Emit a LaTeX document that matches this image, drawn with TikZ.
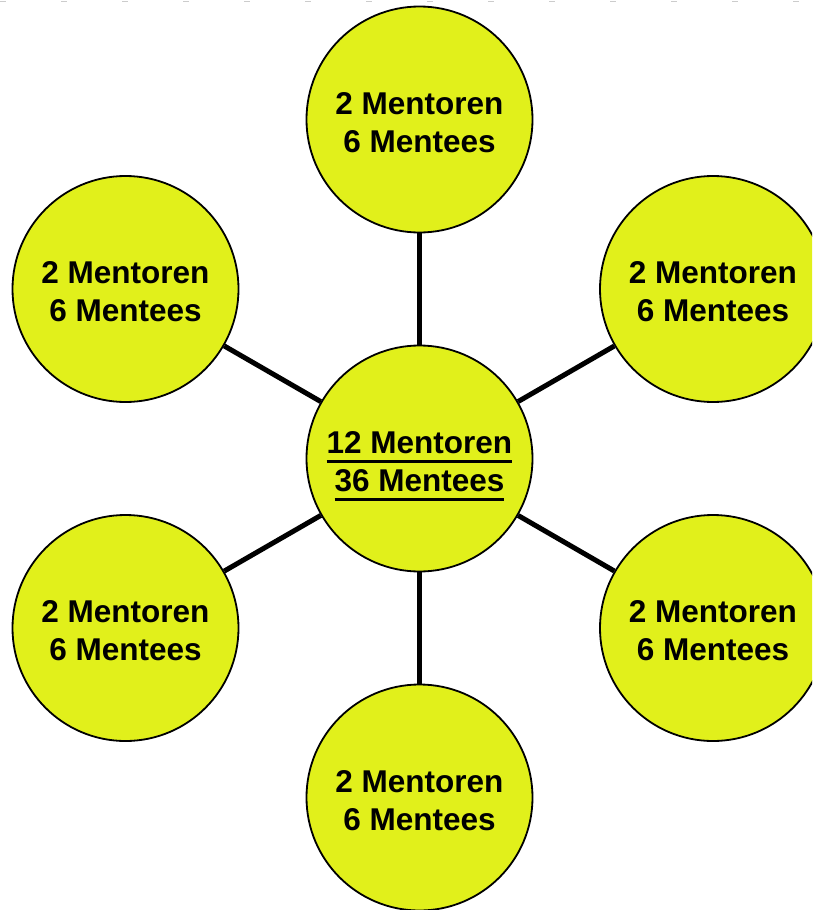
\documentclass[tikz,border=0pt]{standalone}
\usepackage{fontspec}
\setmainfont{Liberation Sans}
\definecolor{fillc}{RGB}{225,240,27}
\newcommand\myul[1]{\setbox0\hbox{#1}\rlap{\smash{\rule[-10pt]{\wd0}{3.5pt}}}\box0}
\newcommand\tstrut{\rule{0pt}{27.5pt}}
\begin{document}
\begin{tikzpicture}[x=1pt,y=-1pt,
  bubble/.style={circle,draw=black,line width=1.8pt,fill=fillc,minimum size=226pt,inner sep=0pt,align=center,font=\fontsize{31.5}{38}\selectfont\bfseries},
  spoke/.style={line width=5pt}]
\clip (0,0) rectangle (812,910);
\draw[gray!40,line width=1pt,dash pattern=on 6pt off 55pt] (0,1) -- (812,1);
\node[bubble] (c) at (419.5,458.5) {\tstrut\myul{12 Mentoren}\\\myul{36 Mentees}};
\node[bubble] (t) at (419.5,119.5) {\tstrut 2 Mentoren\\6 Mentees};
\node[bubble] (b) at (419.5,797.5) {\tstrut 2 Mentoren\\6 Mentees};
\node[bubble] (ul) at (125.5,289) {\tstrut 2 Mentoren\\6 Mentees};
\node[bubble] (ur) at (713,289) {\tstrut 2 Mentoren\\6 Mentees};
\node[bubble] (ll) at (125.5,628) {\tstrut 2 Mentoren\\6 Mentees};
\node[bubble] (lr) at (713,628) {\tstrut 2 Mentoren\\6 Mentees};
\foreach \n in {t,b,ul,ur,ll,lr} \draw[spoke] (c) -- (\n);
\end{tikzpicture}
\end{document}
